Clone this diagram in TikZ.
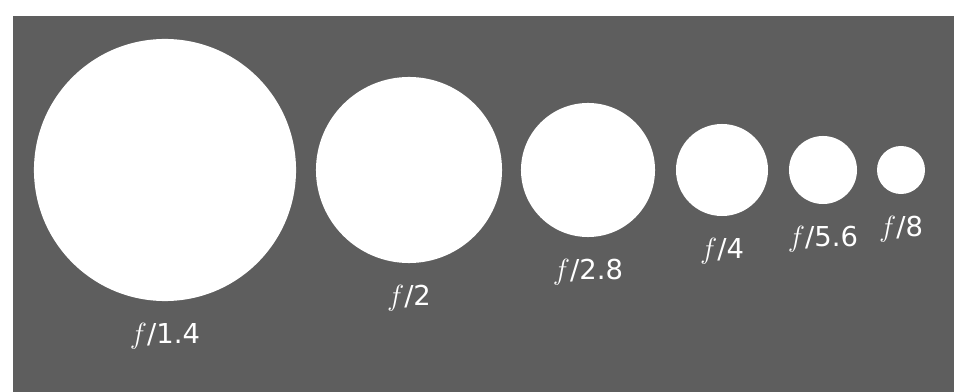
\documentclass[tikz,border=0pt]{standalone}
\usepackage{fontspec}
\setmainfont{DejaVu Sans}
\usepackage{tikz}
\usetikzlibrary{positioning}
\definecolor{plategray}{RGB}{94,94,94}

\begin{document}
\begin{tikzpicture}[x=0.025cm,y=-0.025cm,
    aperture/.style={circle,fill=white,inner sep=0pt},
    stoplabel/.style={text=white,inner sep=0pt,font=\fontsize{19.5}{23}\selectfont}]
    \useasboundingbox (0,0) rectangle (954,392);
    % plate
    \fill[plategray] (13,16) rectangle (954,392);
    % apertures, one stop apart
    \foreach \cx/\rr/\num [count=\i] in {165/131/1.4,409/93/2,588/67/2.8,722/46/4,823/34/5.6,901/24/8} {
        \node[aperture,minimum size=\rr*0.05cm] (ap\i) at (\cx,170) {};
        \node[stoplabel,below=0.55cm of ap\i] (lab\i) {$f$/\num};
    }
\end{tikzpicture}
\end{document}
